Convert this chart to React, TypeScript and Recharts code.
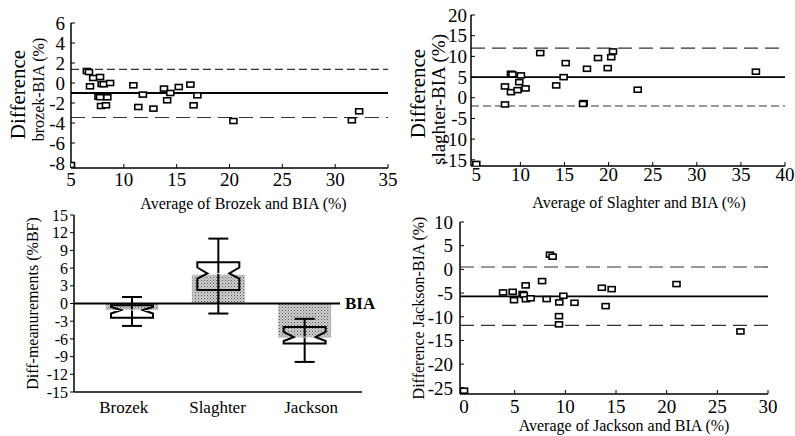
import React from 'react';
import { ScatterChart, Scatter, ComposedChart, Bar, XAxis, YAxis, ReferenceLine } from 'recharts';

const FONT = '"Liberation Serif", "Times New Roman", serif';

// top left: Brozek vs BIA
const brozekAvg = [6.5, 6.7, 6.8, 7.1, 7.75, 7.6, 7.75, 7.9, 8.1, 8.7, 8.44, 7.84, 8.31, 10.9, 11.8, 11.37, 12.8, 13.8, 14.1, 14.4, 15.2, 16.3, 16.6, 16.96, 20.37, 31.58, 32.27, 5.0];
const brozekDiff = [1.2, 1.1, -0.33, 0.5, 0.6, -1.36, -1.42, -0.1, -0.12, 0.0, -1.43, -2.3, -2.23, -0.23, -1.16, -2.4, -2.56, -0.56, -1.73, -1.0, -0.4, -0.16, -2.23, -1.23, -3.8, -3.73, -2.83, -8.2];
const brozekLines = { mean: -1.0, upper: 1.37, lower: -3.45 };

// top right: Slaghter vs BIA
const slaghterAvg = [8.25, 8.93, 9.68, 10.58, 8.25, 8.93, 9.1, 10.06, 9.87, 12.25, 14.06, 14.9, 15.14, 17.17, 17.1, 17.55, 18.8, 19.9, 20.3, 20.5, 23.3, 36.7, 5.0];
const slaghterDiff = [2.73, 1.35, 1.84, 2.25, -1.62, 5.8, 5.65, 5.4, 3.77, 10.8, 2.98, 4.98, 8.37, -1.3, -1.5, 7.0, 9.6, 7.16, 9.8, 11.2, 1.94, 6.3, -16.0];
const slaghterLines = { mean: 5.0, upper: 12.0, lower: -2.0 };

// bottom right: Jackson vs BIA
const jacksonAvg = [3.85, 4.8, 4.93, 5.78, 5.9, 6.08, 6.1, 6.57, 7.7, 8.15, 8.48, 8.74, 9.4, 9.37, 9.37, 9.8, 10.9, 13.6, 13.97, 14.57, 20.97, 27.28, 0.0];
const jacksonDiff = [-4.86, -4.73, -6.5, -5.2, -5.4, -3.38, -6.3, -6.1, -2.47, -6.27, 3.1, 2.68, -6.97, -9.87, -11.6, -5.57, -7.05, -3.88, -7.75, -4.17, -3.1, -13.1, -25.6];
const jacksonLines = { mean: -5.7, upper: 0.5, lower: -11.8 };

// bottom left: box plot of differences
const groups = ['Brozek', 'Slaghter', 'Jackson'];
const meanDiff = [-1.0, 4.8, -5.7];
const whiskerLow = [-3.8, -1.7, -9.9];
const whiskerHigh = [1.1, 11.0, -2.6];
const q1 = [-2.4, 2.3, -6.8];
const notchLow = [-1.7, 4.2, -6.35];
const median = [-1.1, 5.1, -5.7];
const notchHigh = [-0.6, 6.1, -4.8];
const q3 = [-0.3, 7.0, -4.0];

const toPoints = (xs: number[], ys: number[]) => xs.map((x, i) => ({ x, y: ys[i] }));

const boxData = groups.map((name, i) => ({
  name,
  mean: meanDiff[i],
  range: [whiskerLow[i], whiskerHigh[i]],
  q1: q1[i],
  nLo: notchLow[i],
  med: median[i],
  nHi: notchHigh[i],
  q3: q3[i],
}));

const tickStyle = { fontSize: 19, fill: '#000', fontFamily: FONT };
const smallTick = { fontSize: 16, fill: '#000', fontFamily: FONT };
const axisStyle = { stroke: '#000', strokeWidth: 1.5 };

const Marker = (p: any) => (
  <rect x={p.cx - 3.5} y={p.cy - 2.5} width={7} height={5} fill="#fff" stroke="#000" strokeWidth={1.6} />
);

type TitleLine = { text: string; x: number; dy: number; size: number };

const yTitle = (lines: TitleLine[]) => (props: any) => {
  const vb = props.viewBox || { x: 0, y: 0, width: 0, height: 0 };
  const cy = vb.y + vb.height / 2;
  return (
    <g>
      {lines.map((l) => (
        <text
          key={l.text}
          x={l.x}
          y={cy + l.dy}
          transform={`rotate(-90, ${l.x}, ${cy + l.dy})`}
          textAnchor="middle"
          dominantBaseline="central"
          fontSize={l.size}
          fontFamily={FONT}
          fill="#000"
        >
          {l.text}
        </text>
      ))}
    </g>
  );
};

const xTitle = (text: string, dx: number, dy: number) => (props: any) => {
  const vb = props.viewBox || { x: 0, y: 0, width: 0, height: 0 };
  return (
    <text
      x={vb.x + vb.width / 2 + dx}
      y={vb.y + dy}
      textAnchor="middle"
      dominantBaseline="central"
      fontSize={16}
      fontFamily={FONT}
      fill="#000"
    >
      {text}
    </text>
  );
};

type BAProps = {
  width: number;
  height: number;
  margin: { top: number; right: number; bottom: number; left: number };
  yWidth: number;
  xHeight: number;
  xDomain: [number, number];
  yDomain: [number, number];
  xTicks: number[];
  yTicks: number[];
  xs: number[];
  ys: number[];
  lines: { mean: number; upper: number; lower: number };
  upperDash: string;
  lowerDash: string;
  xLabel: (p: any) => React.ReactElement;
  yLabel: (p: any) => React.ReactElement;
  yTickMargin: number;
  xTickMargin: number;
};

const BlandAltman = (p: BAProps) => (
  <ScatterChart width={p.width} height={p.height} margin={p.margin}>
    <XAxis
      type="number"
      dataKey="x"
      domain={p.xDomain}
      ticks={p.xTicks}
      interval={0}
      allowDataOverflow
      height={p.xHeight}
      tick={tickStyle}
      tickSize={-4}
      tickMargin={p.xTickMargin}
      tickLine={{ stroke: '#000' }}
      axisLine={axisStyle}
      label={{ content: p.xLabel as any }}
    />
    <YAxis
      type="number"
      dataKey="y"
      domain={p.yDomain}
      ticks={p.yTicks}
      interval={0}
      allowDataOverflow
      width={p.yWidth}
      tick={tickStyle}
      tickSize={-4}
      tickMargin={p.yTickMargin}
      tickLine={{ stroke: '#000' }}
      axisLine={axisStyle}
      label={{ content: p.yLabel as any }}
    />
    <ReferenceLine y={p.lines.upper} stroke="#333" strokeWidth={1.2} strokeDasharray={p.upperDash} />
    <ReferenceLine y={p.lines.lower} stroke="#333" strokeWidth={1.2} strokeDasharray={p.lowerDash} />
    <ReferenceLine y={p.lines.mean} stroke="#000" strokeWidth={1.8} />
    <Scatter data={toPoints(p.xs, p.ys)} shape={Marker} isAnimationActive={false} />
  </ScatterChart>
);

const NotchBox = (props: any) => {
  const { x, y, width, height, payload } = props;
  const [lo, hi] = payload.range;
  const top = Math.min(y, y + height);
  const bot = Math.max(y, y + height);
  const py = (v: number) => top + ((bot - top) * (hi - v)) / (hi - lo);
  const cx = x + width / 2;
  const xl = x;
  const xr = x + width;
  const n = width * 0.24;
  const pts = [
    [xl, py(payload.q3)],
    [xr, py(payload.q3)],
    [xr, py(payload.nHi)],
    [xr - n, py(payload.med)],
    [xr, py(payload.nLo)],
    [xr, py(payload.q1)],
    [xl, py(payload.q1)],
    [xl, py(payload.nLo)],
    [xl + n, py(payload.med)],
    [xl, py(payload.nHi)],
  ]
    .map((q) => q.join(','))
    .join(' ');
  return (
    <g>
      <line x1={cx} x2={cx} y1={py(hi)} y2={py(lo)} stroke="#000" strokeWidth={2} />
      <line x1={cx - 10} x2={cx + 10} y1={py(hi)} y2={py(hi)} stroke="#000" strokeWidth={2} />
      <line x1={cx - 10} x2={cx + 10} y1={py(lo)} y2={py(lo)} stroke="#000" strokeWidth={2} />
      <polygon points={pts} fill="none" stroke="#000" strokeWidth={2} />
      <line x1={xl + n + 2} x2={xr - n - 2} y1={py(payload.med)} y2={py(payload.med)} stroke="#fff" strokeWidth={1} strokeDasharray="2 2" />
    </g>
  );
};

const BiaLine = (p: any) => (
  <g>
    <line x1={p.x1} y1={p.y1} x2={p.x2 - 22} y2={p.y2} stroke="#000" strokeWidth={2} />
    <text x={p.x2 - 17} y={p.y1} dominantBaseline="central" fontSize={17} fontWeight="bold" fontFamily={FONT} fill="#000">
      BIA
    </text>
  </g>
);

const BoxPanel = () => (
  <ComposedChart width={400} height={231} data={boxData} margin={{ top: 10, right: 38, bottom: 0, left: 0 }}>
    <defs>
      <pattern id="stipple" width="3" height="3" patternUnits="userSpaceOnUse">
        <rect width="3" height="3" fill="#d0d0d0" />
        <rect width="1" height="1" fill="#555" />
        <rect x="1.5" y="1.5" width="1" height="1" fill="#7a7a7a" />
      </pattern>
    </defs>
    <XAxis
      xAxisId="label"
      dataKey="name"
      padding={{ left: 3, right: 4 }}
      height={44}
      tick={{ ...smallTick, fontSize: 17 }}
      tickLine={false}
      tickSize={0}
      tickMargin={9}
      axisLine={axisStyle}
    />
    <XAxis xAxisId="mean" dataKey="name" padding={{ left: 15, right: 14 }} height={0} hide />
    <XAxis xAxisId="box" dataKey="name" padding={{ left: 15, right: 14 }} height={0} hide />
    <YAxis
      type="number"
      domain={[-15, 15]}
      ticks={[15, 12, 9, 6, 3, 0, -3, -6, -9, -12, -15]}
      interval={0}
      allowDataOverflow
      width={74}
      tick={smallTick}
      tickSize={4}
      tickMargin={2}
      tickLine={{ stroke: '#000' }}
      axisLine={axisStyle}
      label={{ content: yTitle([{ text: 'Diff-meanurements (%BF)', x: 32, dy: 0, size: 16 }]) as any }}
    />
    <Bar xAxisId="mean" dataKey="mean" barSize={52} fill="url(#stipple)" stroke="#999" strokeWidth={0.5} isAnimationActive={false} />
    <Bar xAxisId="box" dataKey="range" barSize={42} shape={NotchBox} isAnimationActive={false} />
    <ReferenceLine xAxisId="label" y={0} shape={BiaLine} />
  </ComposedChart>
);

export default function App() {
  return (
    <div style={{ position: 'absolute', left: 0, top: 0, width: 795, height: 436, background: '#fff', overflow: 'hidden' }}>
      <div style={{ position: 'absolute', left: 0, top: 0 }}>
        <BlandAltman
          width={400}
          height={218}
          margin={{ top: 23, right: 12, bottom: 0, left: 0 }}
          yWidth={71}
          xHeight={50}
          xDomain={[5, 35]}
          yDomain={[-8.5, 6]}
          xTicks={[5, 10, 15, 20, 25, 30, 35]}
          yTicks={[6, 4, 2, 0, -2, -4, -6, -8]}
          xs={brozekAvg}
          ys={brozekDiff}
          lines={brozekLines}
          upperDash="8 4"
          lowerDash="14 7"
          yTickMargin={10}
          xTickMargin={9}
          xLabel={xTitle('Average of Brozek and BIA (%)', 14, 35)}
          yLabel={yTitle([
            { text: 'Difference', x: 18, dy: -1, size: 21 },
            { text: 'brozek-BIA (%)', x: 38, dy: -6, size: 16 },
          ])}
        />
      </div>
      <div style={{ position: 'absolute', left: 400, top: 0 }}>
        <BlandAltman
          width={395}
          height={218}
          margin={{ top: 15, right: 10, bottom: 0, left: 0 }}
          yWidth={71}
          xHeight={52}
          xDomain={[4.4, 40]}
          yDomain={[-16.5, 20]}
          xTicks={[5, 10, 15, 20, 25, 30, 35, 40]}
          yTicks={[20, 15, 10, 5, 0, -5, -10, -15]}
          xs={slaghterAvg}
          ys={slaghterDiff}
          lines={slaghterLines}
          upperDash="14 7"
          lowerDash="8 4"
          yTickMargin={8}
          xTickMargin={6}
          xLabel={xTitle('Average of Slaghter and BIA (%)', 11, 36)}
          yLabel={yTitle([
            { text: 'Difference', x: 18, dy: 3, size: 21 },
            { text: 'slaghter-BIA (%)', x: 38, dy: 9, size: 19 },
          ])}
        />
      </div>
      <div style={{ position: 'absolute', left: 0, top: 205 }}>
        <BoxPanel />
      </div>
      <div style={{ position: 'absolute', left: 400, top: 206 }}>
        <BlandAltman
          width={395}
          height={230}
          margin={{ top: 16, right: 27, bottom: 0, left: 0 }}
          yWidth={60}
          xHeight={42}
          xDomain={[-0.4, 30]}
          yDomain={[-26.3, 10]}
          xTicks={[0, 5, 10, 15, 20, 25, 30]}
          yTicks={[10, 5, 0, -5, -10, -15, -20, -25]}
          xs={jacksonAvg}
          ys={jacksonDiff}
          lines={jacksonLines}
          upperDash="14 7"
          lowerDash="14 7"
          yTickMargin={11}
          xTickMargin={10}
          xLabel={xTitle('Average of Jackson and BIA (%)', 10, 31)}
          yLabel={yTitle([{ text: 'Difference Jackson-BIA (%)', x: 18, dy: 0, size: 16 }])}
        />
      </div>
    </div>
  );
}
